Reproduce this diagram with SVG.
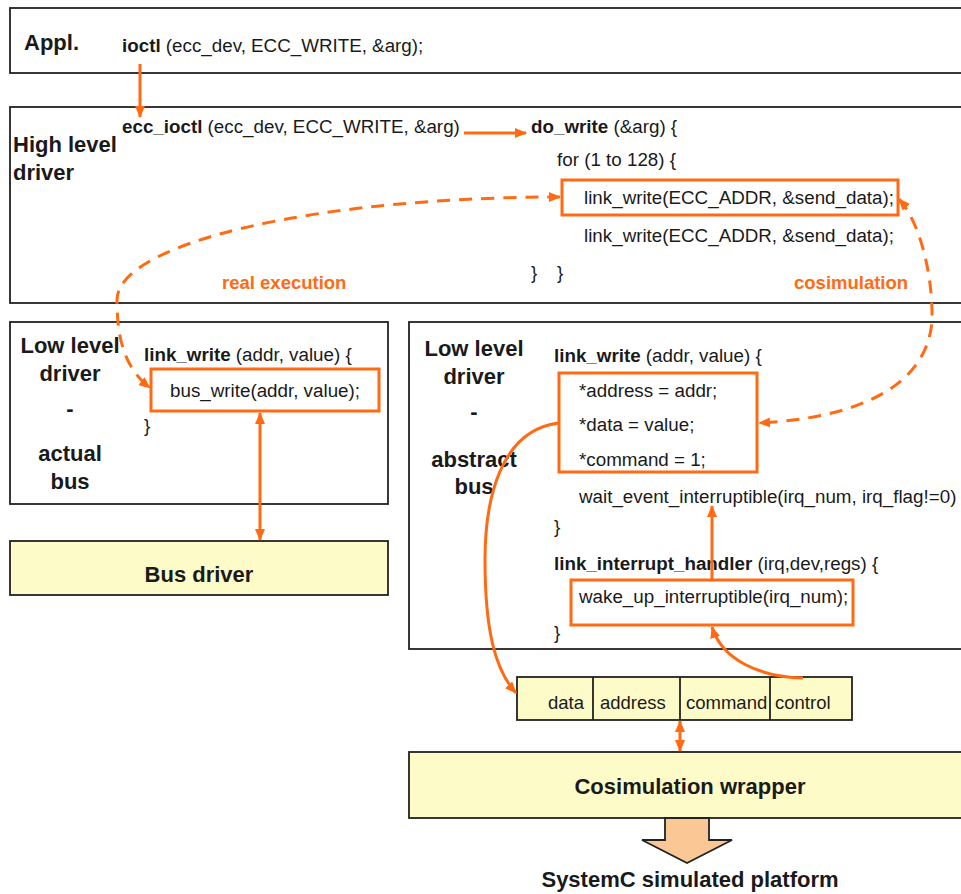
<svg xmlns="http://www.w3.org/2000/svg" width="961" height="894" viewBox="0 0 961 894">
  <style>
    .box { fill: #ffffff; stroke: #222222; stroke-width: 1.8; }
    .ybox { fill: #fdfbc8; stroke: #222222; stroke-width: 1.8; }
    .hl { fill: none; stroke: #ff6a13; stroke-width: 3; }
    .code { font-family: "Liberation Sans", Arial, sans-serif; font-size: 18.8px; fill: #1a1a1a; }
    .b { font-weight: bold; }
    .lbl { font-family: "Liberation Sans", Arial, sans-serif; font-size: 22px; font-weight: bold; fill: #1a1a1a; }
    .olbl { font-family: "Liberation Sans", Arial, sans-serif; font-size: 18.5px; font-weight: bold; fill: #ff6a13; }
    .reg { font-family: "Liberation Sans", Arial, sans-serif; font-size: 18.5px; fill: #1a1a1a; }
    .wire { fill: none; stroke: #ff6a13; stroke-width: 3; }
    .dash { stroke-dasharray: 13 9; }
  </style>
  <defs>
    <marker id="ah" viewBox="0 0 12 10" refX="11" refY="5" markerWidth="12" markerHeight="10" markerUnits="userSpaceOnUse" orient="auto-start-reverse">
      <path d="M0,0 L12,5 L0,10 z" fill="#ff6a13"/>
    </marker>
  </defs>

  <rect width="961" height="894" fill="#ffffff"/>

  <g id="appl">
    <rect class="box" x="10" y="8" width="960" height="65"/>
    <text class="lbl" x="24" y="50">Appl.</text>
    <text class="code" x="122" y="52"><tspan class="b">ioctl</tspan> (ecc_dev, ECC_WRITE, &amp;arg);</text>
  </g>

  <g id="high-level-driver">
    <rect class="box" x="10" y="107" width="960" height="196"/>
    <text class="lbl" x="13" y="152">High level</text>
    <text class="lbl" x="13" y="180">driver</text>
    <text class="code" x="122" y="133"><tspan class="b">ecc_ioctl</tspan> (ecc_dev, ECC_WRITE, &amp;arg)</text>
    <text class="code" x="531" y="133"><tspan class="b">do_write</tspan> (&amp;arg) {</text>
    <text class="code" x="557" y="166">for (1 to 128) {</text>
    <rect class="hl" x="562" y="180" width="336" height="35"/>
    <text class="code" x="584" y="204">link_write(ECC_ADDR, &amp;send_data);</text>
    <text class="code" x="584" y="242">link_write(ECC_ADDR, &amp;send_data);</text>
    <text class="code" x="531" y="279">}</text>
    <text class="code" x="557" y="279">}</text>
    <text class="olbl" x="222" y="289">real execution</text>
    <text class="olbl" x="794" y="289">cosimulation</text>
  </g>

  <g id="low-level-actual">
    <rect class="box" x="10" y="322" width="378" height="182"/>
    <text class="lbl" x="70" y="353" text-anchor="middle">Low level</text>
    <text class="lbl" x="70" y="381" text-anchor="middle">driver</text>
    <text class="lbl" x="70" y="416" text-anchor="middle">-</text>
    <text class="lbl" x="70" y="461" text-anchor="middle">actual</text>
    <text class="lbl" x="70" y="489" text-anchor="middle">bus</text>
    <text class="code" x="144" y="361"><tspan class="b">link_write</tspan> (addr, value) {</text>
    <rect class="hl" x="151" y="369" width="228" height="42"/>
    <text class="code" x="170" y="397">bus_write(addr, value);</text>
    <text class="code" x="144" y="432">}</text>
  </g>

  <g id="bus-driver">
    <rect class="ybox" x="10" y="541" width="378" height="54"/>
    <text class="lbl" x="199" y="582" text-anchor="middle">Bus driver</text>
  </g>

  <g id="low-level-abstract">
    <rect class="box" x="409" y="322" width="561" height="327"/>
    <text class="lbl" x="474" y="356" text-anchor="middle">Low level</text>
    <text class="lbl" x="474" y="384" text-anchor="middle">driver</text>
    <text class="lbl" x="474" y="419" text-anchor="middle">-</text>
    <text class="lbl" x="474" y="467" text-anchor="middle">abstract</text>
    <text class="lbl" x="474" y="494" text-anchor="middle">bus</text>
    <text class="code" x="554" y="362"><tspan class="b">link_write</tspan> (addr, value) {</text>
    <rect class="hl" x="559" y="373" width="198" height="99"/>
    <text class="code" x="579" y="397">*address = addr;</text>
    <text class="code" x="579" y="431">*data = value;</text>
    <text class="code" x="579" y="466">*command = 1;</text>
    <text class="code" x="579" y="503">wait_event_interruptible(irq_num, irq_flag!=0)</text>
    <text class="code" x="554" y="533">}</text>
    <text class="code" x="554" y="570"><tspan class="b">link_interrupt_handler</tspan> (irq,dev,regs) {</text>
    <rect class="hl" x="571" y="580" width="282" height="45"/>
    <text class="code" x="579" y="603">wake_up_interruptible(irq_num);</text>
    <text class="code" x="554" y="639">}</text>
  </g>

  <g id="registers">
    <rect class="ybox" x="517" y="677" width="335" height="43"/>
    <line x1="593" y1="677" x2="593" y2="720" stroke="#222222" stroke-width="1.8"/>
    <line x1="680" y1="677" x2="680" y2="720" stroke="#222222" stroke-width="1.8"/>
    <line x1="770" y1="677" x2="770" y2="720" stroke="#222222" stroke-width="1.8"/>
    <text class="reg" x="584" y="709" text-anchor="end">data</text>
    <text class="reg" x="600" y="709">address</text>
    <text class="reg" x="686" y="709">command</text>
    <text class="reg" x="775" y="709">control</text>
  </g>

  <g id="cosimulation-wrapper">
    <rect class="ybox" x="409" y="752" width="561" height="66"/>
    <text class="lbl" x="690" y="794" text-anchor="middle">Cosimulation wrapper</text>
  </g>

  <g id="systemc-platform">
    <polygon points="665,818 709,818 709,840 732,840 687,863 642,840 665,840" fill="#fbc795" stroke="#222222" stroke-width="1.8"/>
    <text class="lbl" x="690" y="887" text-anchor="middle">SystemC simulated platform</text>
  </g>

  <g id="connectors">
    <!-- call chain -->
    <line class="wire" x1="140" y1="64" x2="140" y2="117" marker-end="url(#ah)"/>
    <line class="wire" x1="464" y1="133" x2="526" y2="133" marker-end="url(#ah)"/>
    <!-- real execution path -->
    <path class="wire dash" d="M 560,197 A 443 103 0 0 0 117,300 C 117,340 125,368 150,388" marker-start="url(#ah)" marker-end="url(#ah)"/>
    <!-- cosimulation path -->
    <path class="wire dash" d="M 899,199 C 922,225 933,280 932,320 C 928,385 860,418 759,423" marker-start="url(#ah)" marker-end="url(#ah)"/>
    <!-- bus_write to bus driver -->
    <line class="wire" x1="260" y1="413" x2="260" y2="540" marker-start="url(#ah)" marker-end="url(#ah)"/>
    <!-- register writes -->
    <path class="wire" d="M 559,423 C 500,430 485,500 485,560 C 485,630 495,670 516,693" marker-end="url(#ah)"/>
    <!-- interrupt from control register -->
    <path class="wire" d="M 803,678 C 760,677 722,660 712,627" marker-end="url(#ah)"/>
    <line class="wire" x1="712" y1="579" x2="712" y2="506" marker-end="url(#ah)"/>
    <!-- registers to wrapper -->
    <line class="wire" x1="680" y1="721" x2="680" y2="751" marker-start="url(#ah)" marker-end="url(#ah)"/>
  </g>
</svg>
